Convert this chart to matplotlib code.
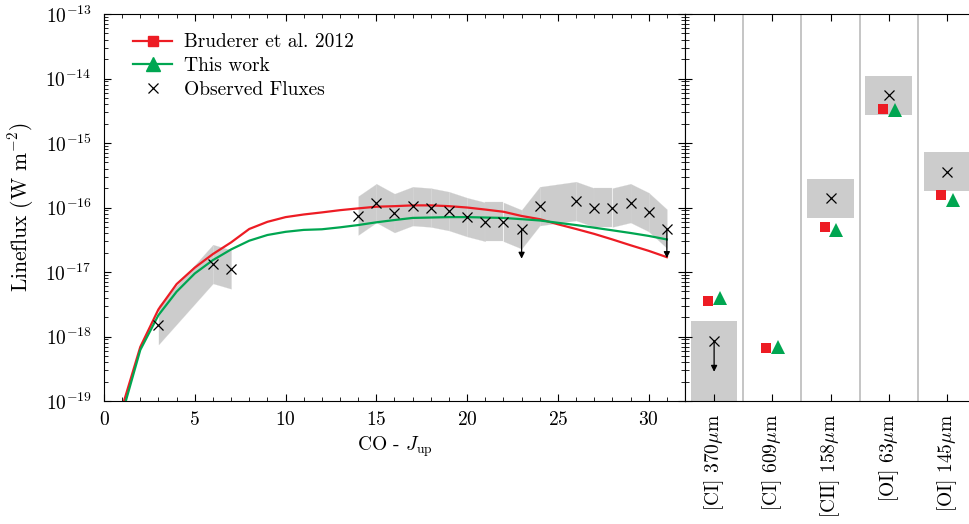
import numpy as np
import matplotlib
matplotlib.use('Agg')
import matplotlib.pyplot as plt
from matplotlib.ticker import LogLocator, MultipleLocator, NullFormatter
from matplotlib.lines import Line2D

plt.rcParams['font.family'] = 'cmr10'
plt.rcParams['mathtext.fontset'] = 'cm'
plt.rcParams['axes.unicode_minus'] = False
plt.rcParams['axes.formatter.use_mathtext'] = True
plt.rcParams['font.size'] = 14

# CO ladder models
j_model = list(range(1, 32))
flux_bruderer = [8e-20, 6.9e-19, 2.64e-18, 6.5e-18, 1.17e-17, 1.9e-17, 2.88e-17, 4.65e-17,
                 6.0e-17, 7.1e-17, 7.8e-17, 8.4e-17, 9.1e-17, 9.7e-17, 1.03e-16, 1.05e-16,
                 1.08e-16, 1.08e-16, 1.05e-16, 1.0e-16, 9.3e-17, 8.6e-17, 7.4e-17, 6.6e-17,
                 5.5e-17, 4.65e-17, 3.9e-17, 3.2e-17, 2.6e-17, 2.13e-17, 1.7e-17]
flux_thiswork = [6.3e-20, 6.2e-19, 2.15e-18, 4.96e-18, 9.5e-18, 1.53e-17, 2.24e-17, 3.06e-17,
                 3.75e-17, 4.2e-17, 4.5e-17, 4.6e-17, 4.93e-17, 5.35e-17, 5.9e-17, 6.4e-17,
                 6.9e-17, 7.0e-17, 7.1e-17, 7.1e-17, 7.0e-17, 6.9e-17, 6.6e-17, 6.3e-17,
                 5.8e-17, 5.35e-17, 4.87e-17, 4.43e-17, 4.03e-17, 3.63e-17, 3.2e-17]

# CO observations
j_obs = [3, 6, 7, 14, 15, 16, 17, 18, 19, 20, 21, 22, 23, 24, 26, 27, 28, 29, 30, 31]
flux_obs = [1.5e-18, 1.33e-17, 1.1e-17, 7.5e-17, 1.17e-16, 8.2e-17, 1.05e-16, 1.0e-16,
            8.8e-17, 7.1e-17, 6.0e-17, 6.0e-17, 4.6e-17, 1.05e-16, 1.26e-16, 1.0e-16,
            1.0e-16, 1.17e-16, 8.5e-17, 4.7e-17]
obs_lo = [7.5e-19, 6.65e-18, 5.5e-18, 3.75e-17, 5.85e-17, 4.1e-17, 5.25e-17, 5.0e-17,
          4.4e-17, 3.55e-17, 3.0e-17, 3.0e-17, 2.3e-17, 5.25e-17, 6.3e-17, 5.0e-17,
          5.0e-17, 5.85e-17, 4.25e-17, 2.35e-17]
obs_hi = [3.0e-18, 2.66e-17, 2.2e-17, 1.5e-16, 2.34e-16, 1.64e-16, 2.1e-16, 2.0e-16,
          1.76e-16, 1.42e-16, 1.2e-16, 1.2e-16, 9.2e-17, 2.1e-16, 2.52e-16, 2.0e-16,
          2.0e-16, 2.34e-16, 1.7e-16, 9.4e-17]
obs_uplim = [23, 31]
band_groups = [(3, 7), (14, 31)]

# atomic lines
atomic_labels = ['[CI] 370$\\mu$m', '[CI] 609$\\mu$m', '[CII] 158$\\mu$m',
                 '[OI] 63$\\mu$m', '[OI] 145$\\mu$m']
atomic_bruderer = [3.55e-18, 6.56e-19, 4.99e-17, 3.40e-15, 1.58e-16]
atomic_thiswork = [3.96e-18, 6.87e-19, 4.56e-17, 3.30e-15, 1.33e-16]
atomic_obs = [8.6e-19, np.nan, 1.40e-16, 5.55e-15, 3.55e-16]
atomic_lo = [1e-20, np.nan, 6.95e-17, 2.75e-15, 1.82e-16]
atomic_hi = [1.73e-18, np.nan, 2.77e-16, 1.09e-14, 7.24e-16]
atomic_uplim = [True, False, False, False, False]

red = '#ed1c24'
green = '#00a651'
grey = '#cccccc'

fig = plt.figure(figsize=(9.7, 5.24), dpi=100)
ax = fig.add_axes([0.1072, 0.2347, 0.5990, 0.7385])
ax2 = fig.add_axes([0.7062, 0.2347, 0.3000, 0.7385])

# --- CO panel ---
# grey band drawn piecewise, which leaves faint seams like the original
j_arr = np.array(j_obs)
lo_arr = np.array(obs_lo)
hi_arr = np.array(obs_hi)
for lo_j, hi_j in band_groups:
    idx = np.where((j_arr >= lo_j) & (j_arr <= hi_j))[0]
    for a, b in zip(idx[:-1], idx[1:]):
        ax.fill_between(j_arr[[a, b]], lo_arr[[a, b]], hi_arr[[a, b]],
                        color=grey, lw=0.15, edgecolor='#d8d8d8', zorder=1)

ax.plot(j_model, flux_bruderer, color=red, lw=1.6, zorder=3)
ax.plot(j_model, flux_thiswork, color=green, lw=1.6, zorder=3)
ax.plot(j_obs, flux_obs, 'x', color='black', ms=7, mew=0.9, zorder=4)

for j, f in zip(j_obs, flux_obs):
    if j in obs_uplim:
        ax.annotate('', xy=(j, f * 0.35), xytext=(j, f),
                    arrowprops=dict(arrowstyle='-|>', color='black', lw=0.9,
                                    mutation_scale=9, shrinkA=0, shrinkB=0), zorder=4)

ax.set_yscale('log')
ax.set_xlim(0, 32)
ax.set_ylim(1e-19, 1e-13)
ax.xaxis.set_major_locator(MultipleLocator(5))
ax.xaxis.set_minor_locator(MultipleLocator(1))
ax.yaxis.set_major_locator(LogLocator(base=10, numticks=10))
ax.yaxis.set_minor_locator(LogLocator(base=10, subs=np.arange(2, 10), numticks=20))
ax.yaxis.set_minor_formatter(NullFormatter())
ax.tick_params(which='both', direction='in', top=True, right=True)
ax.tick_params(which='major', length=5, width=0.8)
ax.tick_params(which='minor', length=3, width=0.6)
ax.tick_params(axis='x', pad=7)
ax.tick_params(axis='y', pad=9)
ax.set_xlabel('CO - $J_{\\rm up}$', labelpad=4)
ax.set_ylabel('Lineflux (W m$^{-2}$)', fontsize=15.5, labelpad=7)

handles = [Line2D([], [], color=red, lw=1.6, marker='s', ms=7),
           Line2D([], [], color=green, lw=1.6, marker='^', ms=10),
           Line2D([], [], color='black', lw=0, marker='x', ms=7, mew=0.9)]
ax.legend(handles, ['Bruderer et al. 2012', 'This work', 'Observed Fluxes'],
          loc='upper left', frameon=False, handlelength=2.0, labelspacing=0.3,
          handletextpad=0.6, bbox_to_anchor=(0.02, 0.995))

# --- atomic panel ---
xc = np.arange(len(atomic_labels))
for i in range(len(atomic_labels)):
    if not np.isnan(atomic_obs[i]):
        ax2.bar(xc[i], atomic_hi[i] - atomic_lo[i], bottom=atomic_lo[i], width=0.8,
                color=grey, lw=0, zorder=1)
for xv in np.arange(0.5, len(atomic_labels) - 0.5, 1.0):
    ax2.axvline(xv, color='#bbbbbb', lw=1.2, zorder=0)

ax2.plot(xc - 0.1, atomic_bruderer, 's', color=red, ms=7, mew=0, zorder=3)
ax2.plot(xc + 0.1, atomic_thiswork, '^', color=green, ms=10, mew=0, zorder=3)
ax2.plot(xc, atomic_obs, 'x', color='black', ms=7, mew=0.9, zorder=4)
for i in range(len(atomic_labels)):
    if atomic_uplim[i]:
        ax2.annotate('', xy=(xc[i], atomic_obs[i] * 0.33), xytext=(xc[i], atomic_obs[i]),
                     arrowprops=dict(arrowstyle='-|>', color='black', lw=0.9,
                                     mutation_scale=9, shrinkA=0, shrinkB=0), zorder=4)

ax2.set_yscale('log')
ax2.set_xlim(-0.5, len(atomic_labels) - 0.5)
ax2.set_ylim(1e-19, 1e-13)
ax2.set_xticks(xc)
ax2.set_xticklabels(atomic_labels, rotation=90, va='top')
ax2.yaxis.set_major_locator(LogLocator(base=10, numticks=10))
ax2.yaxis.set_minor_locator(LogLocator(base=10, subs=np.arange(2, 10), numticks=20))
ax2.yaxis.set_major_formatter(NullFormatter())
ax2.yaxis.set_minor_formatter(NullFormatter())
ax2.tick_params(which='both', direction='in', top=True, right=False)
ax2.tick_params(which='major', length=5, width=0.8)
ax2.tick_params(which='minor', length=3, width=0.6)
ax2.tick_params(axis='x', pad=9)

fig.savefig('out.png', dpi=100)
